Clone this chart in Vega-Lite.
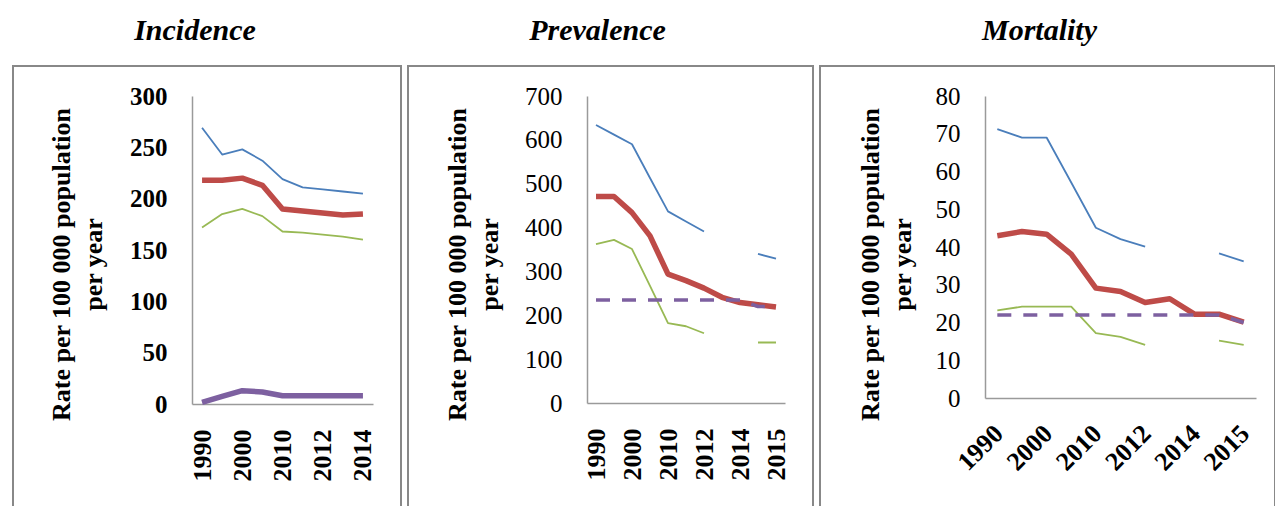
{
  "$schema": "https://vega.github.io/schema/vega-lite/v6.json",
  "padding": {"left": 12, "top": 15, "right": 0, "bottom": 0},
  "spacing": 5,
  "config": {
    "font": "Liberation Serif",
    "view": {"stroke": "#888888", "strokeWidth": 2},
    "axis": {"grid": false, "ticks": false, "tickSize": 0, "domainColor": "#9a9a9a", "domainWidth": 1.5, "labelFont": "Liberation Serif", "labelColor": "#000000", "titleFont": "Liberation Serif", "titleColor": "#000000", "labelFontSize": 25},
    "title": {"font": "Liberation Serif", "fontSize": 30, "fontStyle": "italic", "fontWeight": "bold", "color": "#000000", "baseline": "alphabetic", "offset": 20, "frame": "group", "anchor": "middle"},
    "line": {"strokeJoin": "round", "strokeCap": "butt"}
  },
  "hconcat": [
    {
      "title": {"text": "Incidence", "dx": -12},
      "width": 388,
      "height": 445,
      "data": {"values": [
        {"year": "1990", "upper": 269, "est": 218, "lower": 172, "hiv": 1.6},
        {"year": "1995", "upper": 243, "est": 218, "lower": 185, "hiv": 7.5},
        {"year": "2000", "upper": 248, "est": 220, "lower": 190, "hiv": 13},
        {"year": "2005", "upper": 237, "est": 213, "lower": 183, "hiv": 11.7},
        {"year": "2010", "upper": 219, "est": 190, "lower": 168, "hiv": 8.1},
        {"year": "2011", "upper": 211, "est": 188, "lower": 167, "hiv": 8.1},
        {"year": "2012", "upper": 209, "est": 186, "lower": 165, "hiv": 8.1},
        {"year": "2013", "upper": 207, "est": 184, "lower": 163, "hiv": 8.1},
        {"year": "2014", "upper": 205, "est": 185, "lower": 160, "hiv": 8.1}
      ]},
      "encoding": {
        "x": {"field": "year", "type": "nominal", "sort": null,
          "scale": {"type": "point", "padding": 0.5, "range": [179, 360]},
          "axis": {"values": ["1990", "2000", "2010", "2012", "2014"], "labelAngle": -90, "labelPadding": 25, "labelFont": "Liberation Serif", "labelFontWeight": "bold", "labelFontSize": 26, "offset": -107, "title": null}}
      },
      "layer": [
        {"mark": {"type": "line", "color": "#4A7EBB", "strokeWidth": 1.8},
         "encoding": {"y": {"field": "upper", "type": "quantitative",
           "scale": {"domain": [0, 300], "range": [338, 30], "nice": false},
           "axis": {"values": [0, 50, 100, 150, 200, 250, 300], "offset": -179, "labelPadding": 25, "labelFont": "Liberation Serif", "labelFontWeight": "bold",
             "title": ["Rate per 100 000 population", "per year"], "titleFont": "Liberation Serif", "titleFontSize": 26, "titleFontWeight": "bold", "titleAngle": -90, "titleX": -131, "titleY": 198, "titleAlign": "center", "titleBaseline": "middle", "titleLineHeight": 32}}}},
        {"mark": {"type": "line", "color": "#BE4B48", "strokeWidth": 5.5},
         "encoding": {"y": {"field": "est", "type": "quantitative"}}},
        {"mark": {"type": "line", "color": "#98B954", "strokeWidth": 1.8},
         "encoding": {"y": {"field": "lower", "type": "quantitative"}}},
        {"mark": {"type": "line", "color": "#7D60A0", "strokeWidth": 5.5},
         "encoding": {"y": {"field": "hiv", "type": "quantitative"}}}
      ]
    },
    {
      "title": {"text": "Prevalence", "dx": -13},
      "width": 405,
      "height": 445,
      "data": {"values": [
        {"year": "1990", "upper": 634, "est": 471, "lower": 362, "target": 235},
        {"year": "1995", "upper": 612, "est": 471, "lower": 372, "target": 235},
        {"year": "2000", "upper": 590, "est": 434, "lower": 351, "target": 235},
        {"year": "2005", "upper": 513, "est": 381, "lower": 267, "target": 235},
        {"year": "2010", "upper": 437, "est": 294, "lower": 182, "target": 235},
        {"year": "2011", "upper": 414, "est": 279, "lower": 175, "target": 235},
        {"year": "2012", "upper": 391, "est": 262, "lower": 159, "target": 235},
        {"year": "2013", "upper": null, "est": 241, "lower": null, "target": 235},
        {"year": "2014", "upper": null, "est": 229, "lower": null, "target": 235},
        {"year": "2014/15", "upper": 340, "est": 224, "lower": 138, "target": 220},
        {"year": "2015", "upper": 329, "est": 219, "lower": 138, "target": 220}
      ]},
      "encoding": {
        "x": {"field": "year", "type": "nominal", "sort": null,
          "scale": {"type": "point", "padding": 0.5, "range": [179, 377]},
          "axis": {"values": ["1990", "2000", "2010", "2012", "2014", "2015"], "labelAngle": -90, "labelPadding": 25, "labelFont": "Liberation Serif", "labelFontWeight": "bold", "labelFontSize": 26, "offset": -108, "title": null}}
      },
      "layer": [
        {"mark": {"type": "line", "color": "#4A7EBB", "strokeWidth": 1.8},
         "encoding": {"y": {"field": "upper", "type": "quantitative",
           "scale": {"domain": [0, 700], "range": [337, 30], "nice": false},
           "axis": {"values": [0, 100, 200, 300, 400, 500, 600, 700], "offset": -179, "labelPadding": 25, "labelFont": "Liberation Serif",
             "title": ["Rate per 100 000 population", "per year"], "titleFont": "Liberation Serif", "titleFontSize": 26, "titleFontWeight": "bold", "titleAngle": -90, "titleX": -130, "titleY": 198, "titleAlign": "center", "titleBaseline": "middle", "titleLineHeight": 32}}}},
        {"mark": {"type": "line", "color": "#BE4B48", "strokeWidth": 5.5},
         "encoding": {"y": {"field": "est", "type": "quantitative"}}},
        {"mark": {"type": "line", "color": "#98B954", "strokeWidth": 1.8},
         "encoding": {"y": {"field": "lower", "type": "quantitative"}}},
        {"mark": {"type": "line", "color": "#7D60A0", "strokeWidth": 3.5, "strokeDash": [14, 12]},
         "encoding": {"y": {"field": "target", "type": "quantitative"}}}
      ]
    },
    {
      "title": {"text": "Mortality", "dx": -8},
      "width": 455,
      "height": 445,
      "data": {"values": [
        {"year": "1990", "upper": 71.2, "est": 43.0, "lower": 23.2, "target": 22},
        {"year": "1995", "upper": 69.0, "est": 44.1, "lower": 24.2, "target": 22},
        {"year": "2000", "upper": 69.0, "est": 43.4, "lower": 24.2, "target": 22},
        {"year": "2005", "upper": 57.1, "est": 38.1, "lower": 24.2, "target": 22},
        {"year": "2010", "upper": 45.1, "est": 29.1, "lower": 17.2, "target": 22},
        {"year": "2011", "upper": 42.1, "est": 28.2, "lower": 16.2, "target": 22},
        {"year": "2012", "upper": 40.1, "est": 25.3, "lower": 14.1, "target": 22},
        {"year": "2013", "upper": null, "est": 26.3, "lower": null, "target": 22},
        {"year": "2014", "upper": null, "est": 22.2, "lower": null, "target": 22},
        {"year": "2014/15", "upper": 38.3, "est": 22.2, "lower": 15.2, "target": 22},
        {"year": "2015", "upper": 36.2, "est": 20.1, "lower": 14.1, "target": 20}
      ]},
      "encoding": {
        "x": {"field": "year", "type": "nominal", "sort": null,
          "scale": {"type": "point", "padding": 0.5, "range": [165, 436]},
          "axis": {"values": ["1990", "2000", "2010", "2012", "2014", "2015"], "labelAngle": -45, "labelPadding": 22, "labelOffset": -8, "labelFont": "Liberation Serif", "labelFontWeight": "bold", "labelFontSize": 26, "offset": -113, "title": null}}
      },
      "layer": [
        {"mark": {"type": "line", "color": "#4A7EBB", "strokeWidth": 1.8},
         "encoding": {"y": {"field": "upper", "type": "quantitative",
           "scale": {"domain": [0, 80], "range": [332, 30], "nice": false},
           "axis": {"values": [0, 10, 20, 30, 40, 50, 60, 70, 80], "offset": -165, "labelPadding": 25, "labelFont": "Liberation Serif",
             "title": ["Rate per 100 000 population", "per year"], "titleFont": "Liberation Serif", "titleFontSize": 26, "titleFontWeight": "bold", "titleAngle": -90, "titleX": -115, "titleY": 198, "titleAlign": "center", "titleBaseline": "middle", "titleLineHeight": 32}}}},
        {"mark": {"type": "line", "color": "#BE4B48", "strokeWidth": 5.5},
         "encoding": {"y": {"field": "est", "type": "quantitative"}}},
        {"mark": {"type": "line", "color": "#98B954", "strokeWidth": 1.8},
         "encoding": {"y": {"field": "lower", "type": "quantitative"}}},
        {"mark": {"type": "line", "color": "#7D60A0", "strokeWidth": 3.5, "strokeDash": [14, 12]},
         "encoding": {"y": {"field": "target", "type": "quantitative"}}}
      ]
    }
  ]
}
